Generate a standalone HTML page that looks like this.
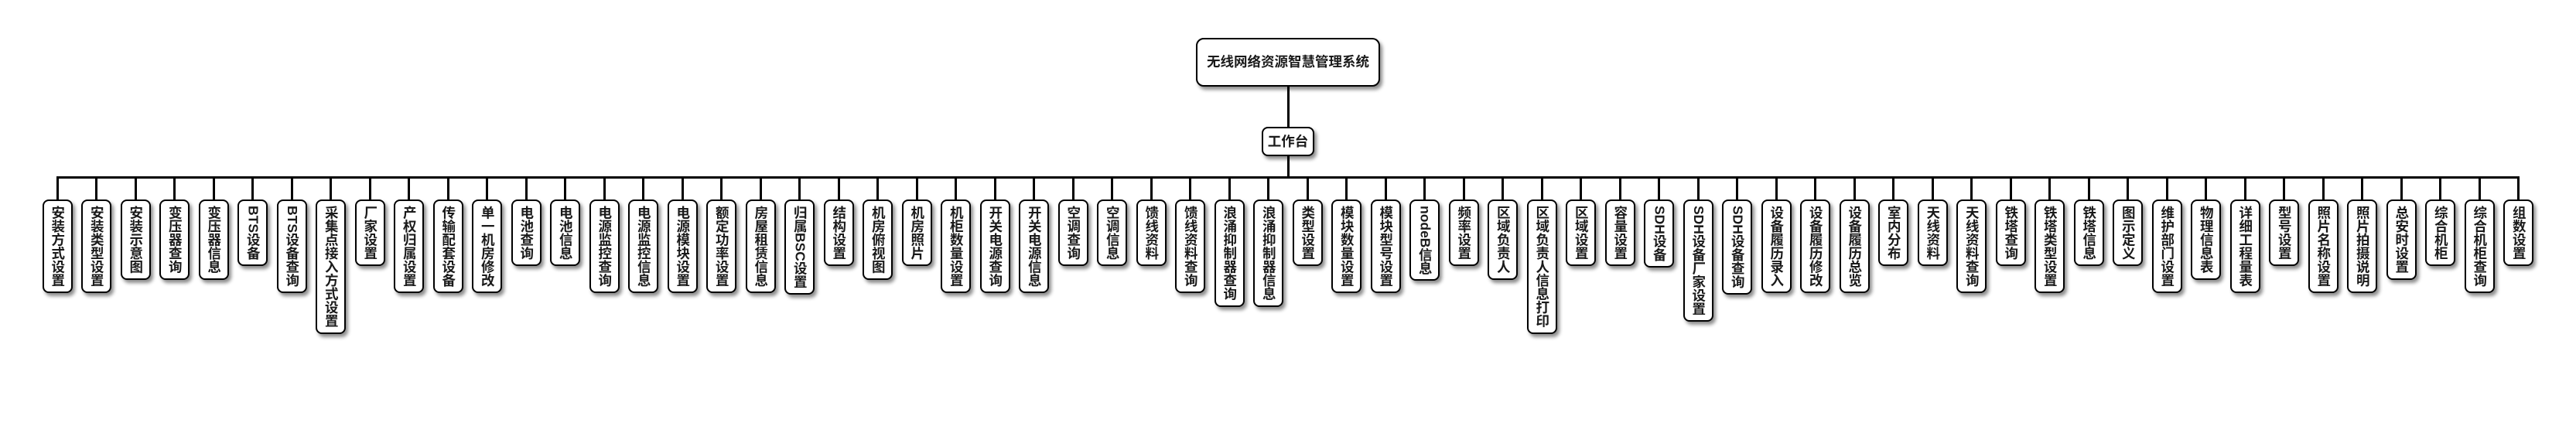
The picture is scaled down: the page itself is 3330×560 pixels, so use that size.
<!DOCTYPE html>
<html>
<head>
<meta charset="utf-8">
<style>
  html, body { margin:0; padding:0; background:#fff; }
  body { width:3330px; height:560px; position:relative; overflow:hidden;
         font-family:"Liberation Sans","Noto Sans CJK SC",sans-serif; font-weight:bold; color:#1a1a1a; }
  .node { position:absolute; box-sizing:border-box; background:#fff; border:2px solid #000;
          box-shadow:3px 4px 5px rgba(0,0,0,0.45); text-align:center; font-size:17.5px; }
  #root { left:1546px; top:49px; width:238px; height:63px; border-radius:10px; line-height:59px; }
  #work { left:1631px; top:164px; width:68px; height:38px; border-radius:8px; line-height:34px; }
  .line { position:absolute; background:#000; }
  #leaves { position:absolute; left:54.75px; top:229px; display:flex; align-items:flex-start; gap:11.5px; }
  .item { width:39px; display:flex; flex-direction:column; align-items:center; }
  .stem { width:3px; height:29px; background:#000; }
  .leaf { box-sizing:border-box; width:39px; border:2px solid #000; border-radius:8px; background:#fff;
          box-shadow:3px 4px 5px rgba(0,0,0,0.45); writing-mode:vertical-rl; text-orientation:mixed;
          font-size:17.5px; line-height:35px; padding:6px 0; white-space:nowrap; }
</style>
</head>
<body>
  <div class="line" style="left:1663.5px; top:111px; width:3px; height:54px;"></div>
  <div class="line" style="left:1663.5px; top:201px; width:3px; height:29px;"></div>
  <div class="line" style="left:72.75px; top:228px; width:3184.5px; height:3px;"></div>

  <div class="node" id="root">无线网络资源智慧管理系统</div>
  <div class="node" id="work">工作台</div>

  <div id="leaves">
    <div class="item"><div class="stem"></div><div class="leaf">安装方式设置</div></div>
    <div class="item"><div class="stem"></div><div class="leaf">安装类型设置</div></div>
    <div class="item"><div class="stem"></div><div class="leaf">安装示意图</div></div>
    <div class="item"><div class="stem"></div><div class="leaf">变压器查询</div></div>
    <div class="item"><div class="stem"></div><div class="leaf">变压器信息</div></div>
    <div class="item"><div class="stem"></div><div class="leaf">BTS设备</div></div>
    <div class="item"><div class="stem"></div><div class="leaf">BTS设备查询</div></div>
    <div class="item"><div class="stem"></div><div class="leaf">采集点接入方式设置</div></div>
    <div class="item"><div class="stem"></div><div class="leaf">厂家设置</div></div>
    <div class="item"><div class="stem"></div><div class="leaf">产权归属设置</div></div>
    <div class="item"><div class="stem"></div><div class="leaf">传输配套设备</div></div>
    <div class="item"><div class="stem"></div><div class="leaf">单一机房修改</div></div>
    <div class="item"><div class="stem"></div><div class="leaf">电池查询</div></div>
    <div class="item"><div class="stem"></div><div class="leaf">电池信息</div></div>
    <div class="item"><div class="stem"></div><div class="leaf">电源监控查询</div></div>
    <div class="item"><div class="stem"></div><div class="leaf">电源监控信息</div></div>
    <div class="item"><div class="stem"></div><div class="leaf">电源模块设置</div></div>
    <div class="item"><div class="stem"></div><div class="leaf">额定功率设置</div></div>
    <div class="item"><div class="stem"></div><div class="leaf">房屋租赁信息</div></div>
    <div class="item"><div class="stem"></div><div class="leaf">归属BSC设置</div></div>
    <div class="item"><div class="stem"></div><div class="leaf">结构设置</div></div>
    <div class="item"><div class="stem"></div><div class="leaf">机房俯视图</div></div>
    <div class="item"><div class="stem"></div><div class="leaf">机房照片</div></div>
    <div class="item"><div class="stem"></div><div class="leaf">机柜数量设置</div></div>
    <div class="item"><div class="stem"></div><div class="leaf">开关电源查询</div></div>
    <div class="item"><div class="stem"></div><div class="leaf">开关电源信息</div></div>
    <div class="item"><div class="stem"></div><div class="leaf">空调查询</div></div>
    <div class="item"><div class="stem"></div><div class="leaf">空调信息</div></div>
    <div class="item"><div class="stem"></div><div class="leaf">馈线资料</div></div>
    <div class="item"><div class="stem"></div><div class="leaf">馈线资料查询</div></div>
    <div class="item"><div class="stem"></div><div class="leaf">浪涌抑制器查询</div></div>
    <div class="item"><div class="stem"></div><div class="leaf">浪涌抑制器信息</div></div>
    <div class="item"><div class="stem"></div><div class="leaf">类型设置</div></div>
    <div class="item"><div class="stem"></div><div class="leaf">模块数量设置</div></div>
    <div class="item"><div class="stem"></div><div class="leaf">模块型号设置</div></div>
    <div class="item"><div class="stem"></div><div class="leaf">nodeB信息</div></div>
    <div class="item"><div class="stem"></div><div class="leaf">频率设置</div></div>
    <div class="item"><div class="stem"></div><div class="leaf">区域负责人</div></div>
    <div class="item"><div class="stem"></div><div class="leaf">区域负责人信息打印</div></div>
    <div class="item"><div class="stem"></div><div class="leaf">区域设置</div></div>
    <div class="item"><div class="stem"></div><div class="leaf">容量设置</div></div>
    <div class="item"><div class="stem"></div><div class="leaf">SDH设备</div></div>
    <div class="item"><div class="stem"></div><div class="leaf">SDH设备厂家设置</div></div>
    <div class="item"><div class="stem"></div><div class="leaf">SDH设备查询</div></div>
    <div class="item"><div class="stem"></div><div class="leaf">设备履历录入</div></div>
    <div class="item"><div class="stem"></div><div class="leaf">设备履历修改</div></div>
    <div class="item"><div class="stem"></div><div class="leaf">设备履历总览</div></div>
    <div class="item"><div class="stem"></div><div class="leaf">室内分布</div></div>
    <div class="item"><div class="stem"></div><div class="leaf">天线资料</div></div>
    <div class="item"><div class="stem"></div><div class="leaf">天线资料查询</div></div>
    <div class="item"><div class="stem"></div><div class="leaf">铁塔查询</div></div>
    <div class="item"><div class="stem"></div><div class="leaf">铁塔类型设置</div></div>
    <div class="item"><div class="stem"></div><div class="leaf">铁塔信息</div></div>
    <div class="item"><div class="stem"></div><div class="leaf">图示定义</div></div>
    <div class="item"><div class="stem"></div><div class="leaf">维护部门设置</div></div>
    <div class="item"><div class="stem"></div><div class="leaf">物理信息表</div></div>
    <div class="item"><div class="stem"></div><div class="leaf">详细工程量表</div></div>
    <div class="item"><div class="stem"></div><div class="leaf">型号设置</div></div>
    <div class="item"><div class="stem"></div><div class="leaf">照片名称设置</div></div>
    <div class="item"><div class="stem"></div><div class="leaf">照片拍摄说明</div></div>
    <div class="item"><div class="stem"></div><div class="leaf">总安时设置</div></div>
    <div class="item"><div class="stem"></div><div class="leaf">综合机柜</div></div>
    <div class="item"><div class="stem"></div><div class="leaf">综合机柜查询</div></div>
    <div class="item"><div class="stem"></div><div class="leaf">组数设置</div></div>
  </div>
</body>
</html>
